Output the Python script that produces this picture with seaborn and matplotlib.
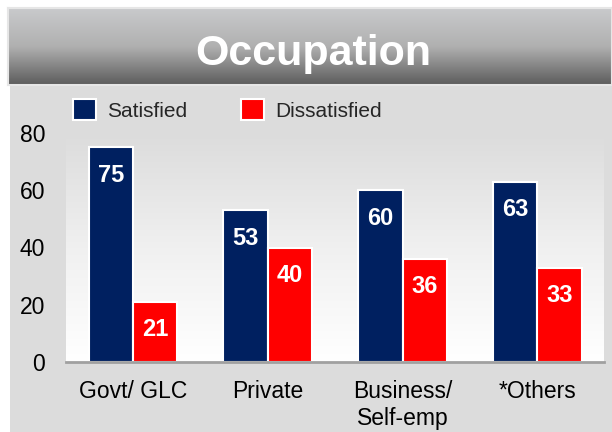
import numpy as np
import pandas as pd
import matplotlib
matplotlib.use("Agg")
import matplotlib.pyplot as plt
from matplotlib.patches import Rectangle
import seaborn as sns

occupations = ["Govt/ GLC", "Private", "Business/\nSelf-emp", "*Others"]
satisfied = [75, 53, 60, 63]
dissatisfied = [21, 40, 36, 33]
responses = ["Satisfied", "Dissatisfied"]
yticks = [0, 20, 40, 60, 80]
title = "Occupation"

navy = "#002060"
red = "#ff0000"

df = pd.DataFrame({
    "Occupation": occupations * 2,
    "Percent": satisfied + dissatisfied,
    "Response": [responses[0]] * 4 + [responses[1]] * 4,
})

sns.set_theme(style="white")
plt.rcParams["font.family"] = ["Liberation Sans", "DejaVu Sans"]

W, H = 612, 432
fig = plt.figure(figsize=(W / 100, H / 100), dpi=100)
fig.patch.set_facecolor("white")

# grey panel behind the chart
fig.patches.append(Rectangle((10 / W, 0), 1 - 10 / W, (H - 84) / H, transform=fig.transFigure,
                             facecolor="#dcdcdc", edgecolor="none", zorder=-5))

# title band with a vertical gradient
tax = fig.add_axes([8 / W, (H - 85) / H, 1 - 8 / W, 77 / H])
grad = np.linspace(0, 1, 256).reshape(-1, 1)
cmap = matplotlib.colors.LinearSegmentedColormap.from_list("band", ["#c9cacc", "#b0b0b0", "#5c5c5c"])
tax.imshow(grad, aspect="auto", cmap=cmap, extent=[0, 1, 0, 1])
tax.set_xticks([])
tax.set_yticks([])
for s in tax.spines.values():
    s.set_color("#e6e6e6")
    s.set_linewidth(1.5)
tax.text(0.505, 0.26, title, transform=tax.transAxes, ha="center", va="baseline",
         fontsize=31, fontweight="bold", color="white")

# main axes
ax = fig.add_axes([66 / W, (H - 362) / H, 538 / W, 229 / H])
ax.set_zorder(2)
ax.set_facecolor("none")
bg = np.linspace(0, 1, 256).reshape(-1, 1)
bgmap = matplotlib.colors.LinearSegmentedColormap.from_list("bg", ["#dcdcdc", "#f0f0f0", "#ffffff"])
ax.imshow(bg, aspect="auto", cmap=bgmap, extent=[0, 1, 0, 1], transform=ax.transAxes, zorder=0)

sns.barplot(data=df, x="Occupation", y="Percent", hue="Response", palette=[navy, red],
            width=0.66, edgecolor="white", linewidth=1.5, saturation=1, ax=ax, zorder=2)

ax.set_xlim(-0.497, 3.494)
ax.set_ylim(0, 80)
ax.set_yticks(yticks)
ax.set_xlabel("")
ax.set_ylabel("")
ax.tick_params(axis="both", length=0, labelsize=16.5, colors="black")
ax.tick_params(axis="x", pad=13)
ax.tick_params(axis="y", pad=15)
for s in ["top", "right", "left"]:
    ax.spines[s].set_visible(False)
ax.spines["bottom"].set_color("#a0a0a0")
ax.spines["bottom"].set_linewidth(2)
ax.spines["bottom"].set_zorder(3)

for p in ax.patches:
    h = p.get_height()
    if h > 0:
        ax.annotate(f"{h:.0f}", (p.get_x() + p.get_width() / 2, h), xytext=(0, -20),
                    textcoords="offset points", ha="center", va="center",
                    fontsize=17, fontweight="bold", color="white", zorder=4)

handles, labels = ax.get_legend_handles_labels()
ax.legend(handles, labels, ncol=2, loc="upper left", bbox_to_anchor=(73 / W, 1 - 99 / H),
          bbox_transform=fig.transFigure, frameon=False, fontsize=15, borderpad=0,
          borderaxespad=0, handlelength=1.1, handleheight=1.2, handletextpad=0.53,
          columnspacing=2.6)

fig.savefig("out.png", dpi=100)
